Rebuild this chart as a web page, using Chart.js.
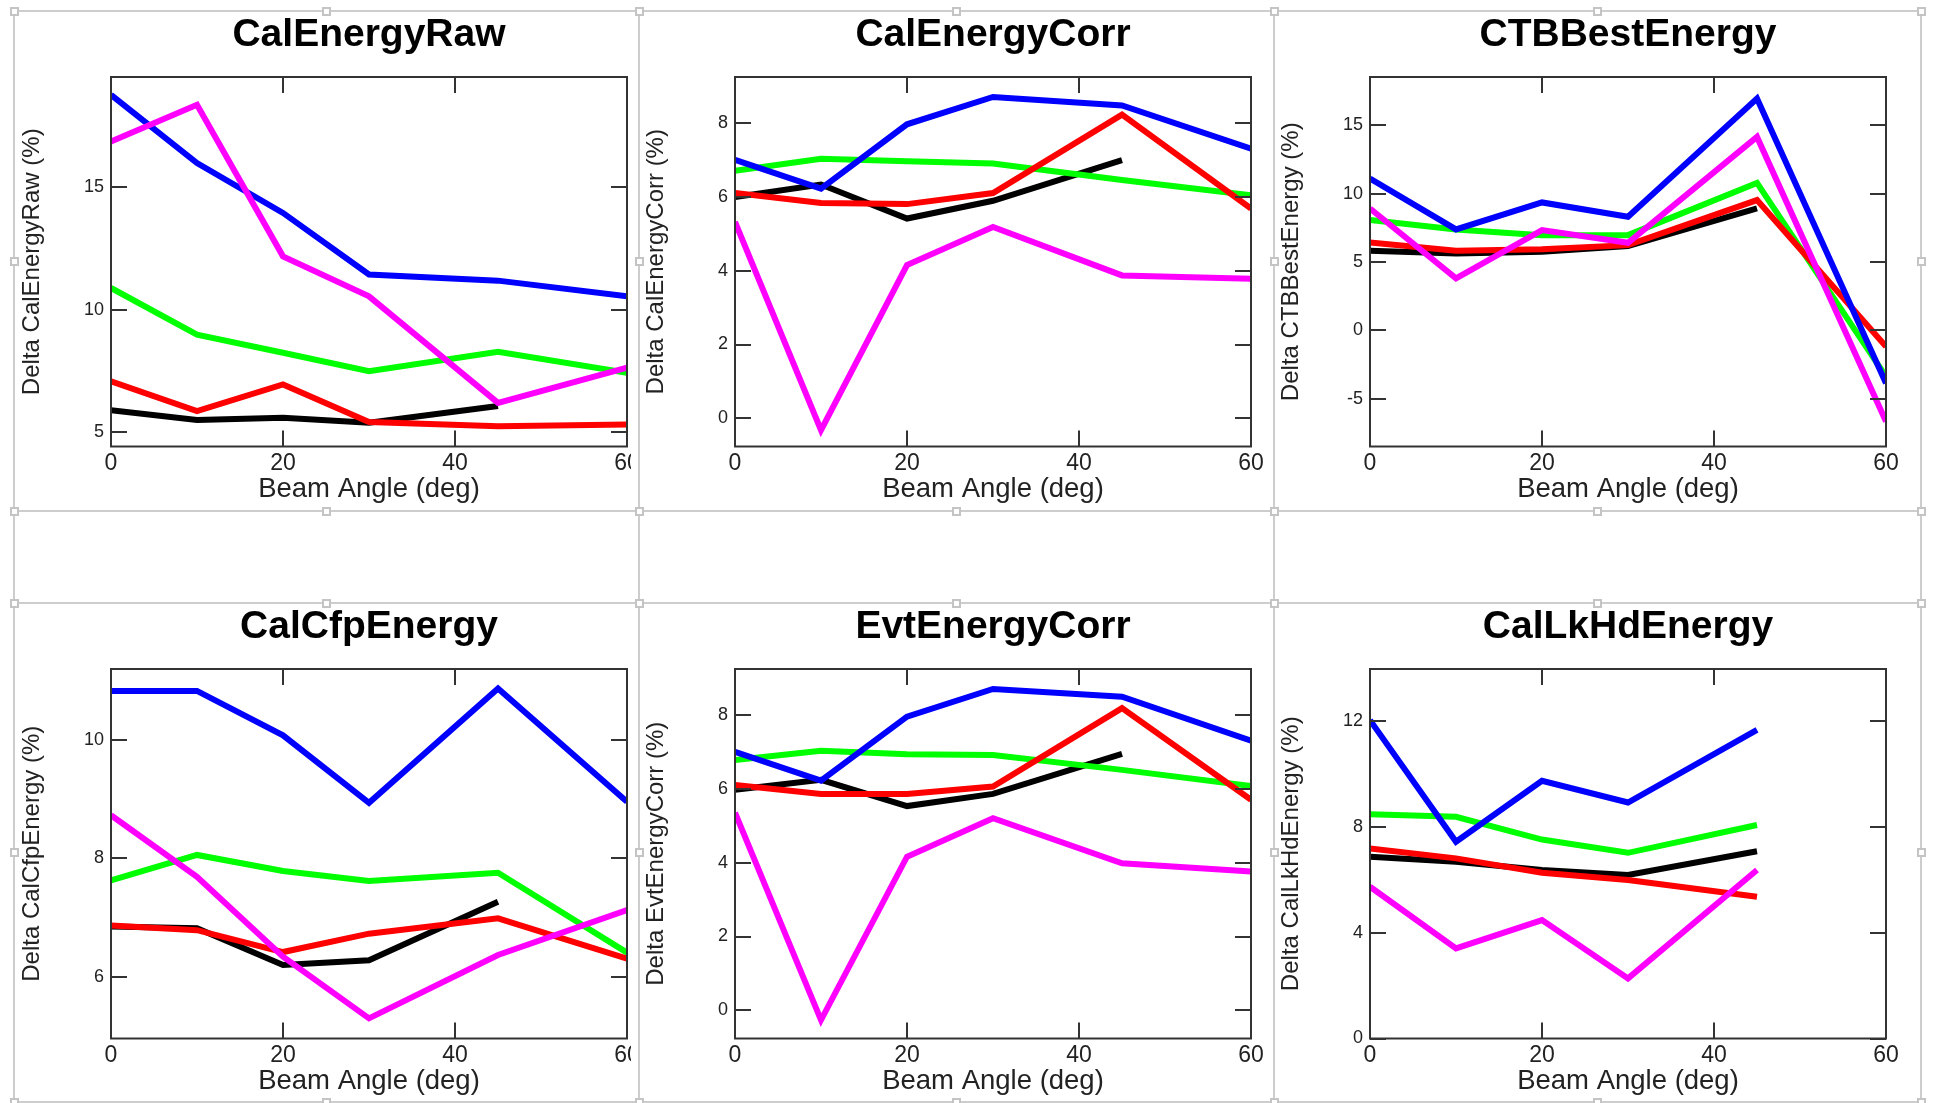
<!DOCTYPE html>
<html>
<head>
<meta charset="utf-8">
<title>Beam angle scan</title>
<script src="https://cdn.jsdelivr.net/npm/chart.js@4.4.1/dist/chart.umd.min.js"></script>
<style>
  html, body { margin: 0; padding: 0; background: #fff; }
  body { width: 1933px; height: 1103px; position: relative; overflow: hidden; }
  canvas { position: absolute; }
  .hline, .vline { position: absolute; background: #cdcdcd; }
  .handle { position: absolute; width: 9px; height: 9px; border: 2px solid #c4c4c4; background: #fff; box-sizing: border-box; }
</style>
</head>
<body>
<script>
// beam angles (deg)
const angles = [0, 10, 20, 30, 45, 60];
const xTicks = [0, 20, 40, 60];

// CalEnergyRaw
const rawBlue = [18.75, 15.97, 13.94, 11.43, 11.18, 10.54];
const rawMagenta = [16.85, 18.35, 12.17, 10.54, 6.2, 7.63];
const rawGreen = [10.88, 8.98, 8.24, 7.49, 8.28, 7.42];
const rawRed = [7.08, 5.86, 6.95, 5.42, 5.25, 5.32];
const rawBlack = [5.9, 5.5, 5.59, 5.39, 6.07];
const rawTicks = [5, 10, 15];

// CalEnergyCorr
const corrBlue = [7.0, 6.22, 7.96, 8.7, 8.47, 7.3];
const corrMagenta = [5.32, -0.32, 4.15, 5.18, 3.87, 3.78];
const corrGreen = [6.7, 7.03, 6.96, 6.9, 6.45, 6.04];
const corrRed = [6.1, 5.83, 5.8, 6.1, 8.22, 5.68];
const corrBlack = [5.99, 6.33, 5.41, 5.89, 6.99];
const corrTicks = [0, 2, 4, 6, 8];

// CTBBestEnergy
const ctbBlue = [11.11, 7.39, 9.36, 8.31, 16.95, -3.85];
const ctbMagenta = [8.92, 3.81, 7.34, 6.41, 14.15, -6.65];
const ctbGreen = [8.07, 7.39, 6.97, 6.97, 10.79, -3.37];
const ctbRed = [6.44, 5.83, 5.93, 6.24, 9.53, -1.18];
const ctbBlack = [5.83, 5.63, 5.76, 6.17, 8.92];
const ctbTicks = [-5, 0, 5, 10, 15];

// CalCfpEnergy
const cfpBlue = [10.83, 10.83, 10.08, 8.94, 10.87, 8.96];
const cfpMagenta = [8.73, 7.69, 6.34, 5.3, 6.37, 7.13];
const cfpGreen = [7.63, 8.06, 7.79, 7.62, 7.76, 6.41];
const cfpRed = [6.87, 6.79, 6.42, 6.73, 6.99, 6.31];
const cfpBlack = [6.85, 6.82, 6.2, 6.28, 7.27];
const cfpTicks = [6, 8, 10];

// EvtEnergyCorr
const evtBlue = [7.0, 6.22, 7.95, 8.7, 8.49, 7.3];
const evtMagenta = [5.35, -0.26, 4.16, 5.2, 3.98, 3.76];
const evtGreen = [6.78, 7.03, 6.93, 6.91, 6.51, 6.07];
const evtRed = [6.1, 5.86, 5.86, 6.06, 8.18, 5.7];
const evtBlack = [5.97, 6.24, 5.53, 5.86, 6.94];
const evtTicks = [0, 2, 4, 6, 8];

// CalLkHdEnergy (no 60 deg point)
const lkhdBlue = [12.02, 7.43, 9.73, 8.91, 11.65];
const lkhdMagenta = [5.73, 3.4, 4.47, 2.27, 6.36];
const lkhdGreen = [8.47, 8.37, 7.51, 7.01, 8.06];
const lkhdRed = [7.17, 6.8, 6.26, 5.98, 5.35];
const lkhdBlack = [6.86, 6.67, 6.36, 6.17, 7.07];
const lkhdTicks = [0, 4, 8, 12];

const FONT = "Arial, 'Liberation Sans', Helvetica, sans-serif";

const panels = [
  { name: 'CalEnergyRaw', x: 15, y: 11, w: 616, yMin: 4.42, yMax: 19.48, yTicks: rawTicks,
    lines: [rawMagenta, rawBlue, rawRed, rawGreen, rawBlack] },
  { name: 'CalEnergyCorr', x: 639, y: 11, w: 634, yMin: -0.76, yMax: 9.24, yTicks: corrTicks,
    lines: [corrMagenta, corrBlue, corrRed, corrGreen, corrBlack] },
  { name: 'CTBBestEnergy', x: 1274, y: 11, w: 647, yMin: -8.48, yMax: 18.53, yTicks: ctbTicks,
    lines: [ctbMagenta, ctbBlue, ctbRed, ctbGreen, ctbBlack] },
  { name: 'CalCfpEnergy', x: 15, y: 603, w: 616, yMin: 4.96, yMax: 11.2, yTicks: cfpTicks,
    lines: [cfpMagenta, cfpBlue, cfpRed, cfpGreen, cfpBlack] },
  { name: 'EvtEnergyCorr', x: 639, y: 603, w: 634, yMin: -0.76, yMax: 9.24, yTicks: evtTicks,
    lines: [evtMagenta, evtBlue, evtRed, evtGreen, evtBlack] },
  { name: 'CalLkHdEnergy', x: 1274, y: 603, w: 647, yMin: 0, yMax: 13.95, yTicks: lkhdTicks,
    lines: [lkhdMagenta, lkhdBlue, lkhdRed, lkhdGreen, lkhdBlack] }
];
// first dataset is drawn on top
const colors = ['#ff00ff', '#0000ff', '#ff0000', '#00ff00', '#000000'];

// plot box with inward tick marks on all four sides
const boxTicks = {
  id: 'boxTicks',
  afterDatasetsDraw(chart) {
    const { ctx, chartArea: a, scales: { x, y } } = chart;
    const len = 16;
    ctx.save();
    ctx.strokeStyle = '#333';
    ctx.lineWidth = 2;
    ctx.beginPath();
    x.ticks.forEach(t => {
      const px = Math.round(x.getPixelForValue(t.value));
      ctx.moveTo(px, a.top); ctx.lineTo(px, a.top + len);
      ctx.moveTo(px, a.bottom); ctx.lineTo(px, a.bottom - len);
    });
    y.ticks.forEach(t => {
      const py = Math.round(y.getPixelForValue(t.value));
      ctx.moveTo(a.left, py); ctx.lineTo(a.left + len, py);
      ctx.moveTo(a.right, py); ctx.lineTo(a.right - len, py);
    });
    ctx.stroke();
    ctx.strokeRect(a.left, a.top, a.right - a.left, a.bottom - a.top);
    ctx.restore();
  }
};

function makeChart(p) {
  const canvas = document.createElement('canvas');
  canvas.width = p.w;
  canvas.height = 500;
  canvas.style.left = p.x + 'px';
  canvas.style.top = p.y + 'px';
  document.body.appendChild(canvas);

  const datasets = p.lines.map((vals, i) => ({
    data: vals.map((v, k) => ({ x: angles[k], y: v })),
    borderColor: colors[i],
    borderWidth: 6,
    pointRadius: 0,
    tension: 0,
    fill: false
  }));

  new Chart(canvas, {
    type: 'line',
    data: { datasets },
    options: {
      responsive: false,
      animation: false,
      devicePixelRatio: 1,
      layout: { autoPadding: false, padding: { left: 0, top: 0, bottom: 0, right: p.w - 612 } },
      plugins: {
        legend: { display: false },
        tooltip: { enabled: false },
        title: {
          display: true, text: p.name, fullSize: false, color: '#000',
          font: { family: FONT, size: 39, weight: 'bold', lineHeight: 1.2 },
          padding: { top: 0.6, bottom: 18.6 }
        }
      },
      scales: {
        x: {
          type: 'linear', min: 0, max: 60,
          afterBuildTicks: s => { s.ticks = xTicks.map(v => ({ value: v })); },
          afterFit: s => { s.height = 64.5; s.paddingLeft = 0; s.paddingRight = 0; },
          grid: { display: false, drawTicks: false },
          border: { display: false },
          ticks: { color: '#222', padding: 3, maxRotation: 0, autoSkip: false,
                   font: { family: FONT, size: 23, lineHeight: 1.2 } },
          title: { display: true, text: 'Beam Angle (deg)', color: '#222',
                   font: { family: FONT, size: 27.5, lineHeight: 1.2 }, padding: { top: 0, bottom: 5 } }
        },
        y: {
          type: 'linear', min: p.yMin, max: p.yMax,
          afterBuildTicks: s => { s.ticks = p.yTicks.map(v => ({ value: v })); },
          afterFit: s => { s.width = 96; s.paddingTop = 0; s.paddingBottom = 0; },
          grid: { display: false, drawTicks: false },
          border: { display: false },
          ticks: { color: '#222', padding: 7, font: { family: FONT, size: 18 } },
          title: { display: true, text: 'Delta ' + p.name + ' (%)', color: '#222',
                   font: { family: FONT, size: 24, lineHeight: 1.2 }, padding: { top: 3, bottom: 0 } }
        }
      }
    },
    plugins: [boxTicks]
  });
}

panels.forEach(makeChart);

// grey selection frames round the six panels
const frameX = [14, 639, 1274, 1921];
const frameY = [11, 511, 603, 1102];
frameY.forEach(y => {
  const d = document.createElement('div');
  d.className = 'hline';
  Object.assign(d.style, { left: (frameX[0] - 1) + 'px', top: (y - 1) + 'px', width: (frameX[3] - frameX[0] + 2) + 'px', height: '2px' });
  document.body.appendChild(d);
});
frameX.forEach(x => {
  const d = document.createElement('div');
  d.className = 'vline';
  Object.assign(d.style, { left: (x - 1) + 'px', top: (frameY[0] - 1) + 'px', width: '2px', height: (frameY[3] - frameY[0] + 2) + 'px' });
  document.body.appendChild(d);
});
function handle(x, y) {
  const d = document.createElement('div');
  d.className = 'handle';
  d.style.left = Math.round(x - 4.5) + 'px';
  d.style.top = Math.round(y - 4.5) + 'px';
  document.body.appendChild(d);
}
[[0, 1], [2, 3]].forEach(([t, b]) => {
  for (let c = 0; c < 3; c++) {
    const l = frameX[c], r = frameX[c + 1], top = frameY[t], bot = frameY[b];
    const mx = (l + r) / 2, my = (top + bot) / 2;
    [[l, top], [mx, top], [r, top], [l, my], [r, my], [l, bot], [mx, bot], [r, bot]].forEach(([hx, hy]) => handle(hx, hy));
  }
});
</script>
</body>
</html>
